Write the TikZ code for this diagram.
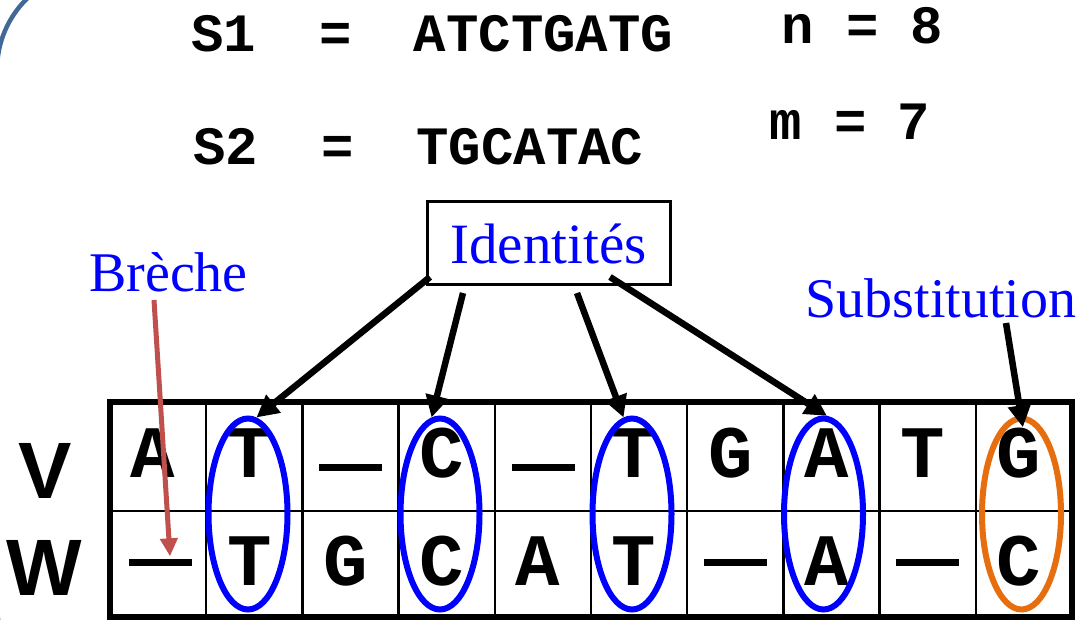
\documentclass[tikz,border=0pt]{standalone}
\usepackage{fontspec}
\setmainfont{Liberation Serif}
\newfontfamily\monof{Liberation Mono}
\newfontfamily\sansf{Liberation Sans}
\usetikzlibrary{shapes.geometric,arrows.meta,calc}
\definecolor{frameblue}{RGB}{65,105,150}
\definecolor{gapred}{RGB}{192,80,77}
\definecolor{suborange}{RGB}{230,110,15}
\definecolor{labelblue}{RGB}{0,0,255}
\begin{document}
\begin{tikzpicture}[x=1pt,y=-1pt,
  seq/.style={font=\monof\bfseries\fontsize{54}{54}\selectfont, anchor=base, inner sep=0},
  cell/.style={font=\monof\bfseries\fontsize{74}{74}\selectfont, anchor=base, inner sep=0},
  gapbar/.style={inner sep=0, fill=black, minimum width=63, minimum height=7},
  rowlab/.style={font=\sansf\bfseries\fontsize{80}{80}\selectfont, anchor=base, inner sep=0},
  lab/.style={font=\fontsize{56}{56}\selectfont, text=labelblue, anchor=base, inner sep=0},
  ring/.style={ellipse, draw=labelblue, line width=6, minimum width=79, minimum height=191, inner sep=0},
  pointer/.style={draw=black, line width=6.5, -{Triangle[length=22,width=22]}},
  gappointer/.style={draw=gapred, line width=5, -{Triangle[length=18,width=17]}},
]
\useasboundingbox (0,0) rectangle (1084,620);
\fill[white] (0,0) rectangle (1084,620);
% frame
\begin{scope}
  \clip (0,0) rectangle (1084,620);
  \draw[frameblue, line width=4.5, rounded corners=100] (-3,-30) rectangle (1200,705);
\end{scope}
% sequences
\node[seq] (s1) at (223.5,52) {S1};
\node[seq] (eq1) at (336,52) {=};
\node[seq] (s1v) at (543.5,52) {ATCTGATG};
\node[seq] (s2) at (226,165) {S2};
\node[seq] (eq2) at (338,165) {=};
\node[seq] (s2v) at (530,165) {TGCATAC};
\node[seq] (nn) at (798,44) {n};
\node[seq] (eqn) at (863,44) {=};
\node[seq] (nv) at (926.5,44) {8};
\node[seq] (mm) at (785.5,140) {m};
\node[seq] (eqm) at (850.5,140) {=};
\node[seq] (mv) at (914,140) {7};
% labels
\node[draw, line width=3, minimum width=243, minimum height=83, inner sep=0,
      font=\fontsize{57}{57}\selectfont, text=labelblue] (idbox) at (548.5,243.5) {Identités};
\node[lab] (breche) at (168.5,292) {Brèche};
\node[lab] (subst) at (941,317) {Substitution};
% table
\foreach \i in {1,...,9} \draw[line width=2.5] ({110+96.2*\i},402) -- ({110+96.2*\i},617);
\draw[line width=2.5] (110,511) -- (1072,511);
\draw[line width=5.5] (110,402) rectangle (1072,617);
% row labels
\node[rowlab] (rv) at (45,498) {V};
\node[rowlab] (rw) at (44,595) {W};
% row V
\node[cell] (v1) at (153.1,477) {A};
\node[cell] (v2) at (249.3,477) {T};
\node[gapbar] (v3) at (350.5,467) {};
\node[cell] (v4) at (441.7,477) {C};
\node[gapbar] (v5) at (543,467) {};
\node[cell] (v6) at (634.1,477) {T};
\node[cell] (v7) at (730.3,477) {G};
\node[cell] (v8) at (826.5,477) {A};
\node[cell] (v9) at (922.7,477) {T};
\node[cell] (v10) at (1018.9,477) {G};
% row W
\node[gapbar] (w1) at (160,562) {};
\node[cell] (w2) at (249.3,585) {T};
\node[cell] (w3) at (345.5,585) {G};
\node[cell] (w4) at (441.7,585) {C};
\node[cell] (w5) at (537.9,585) {A};
\node[cell] (w6) at (634.1,585) {T};
\node[gapbar] (w7) at (735,562) {};
\node[cell] (w8) at (826.5,585) {A};
\node[gapbar] (w9) at (927,562) {};
\node[cell] (w10) at (1018.9,585) {C};
% ellipses
\node[ring] (e2) at (248,514) {};
\node[ring] (e4) at (440,514) {};
\node[ring] (e6) at (632,514) {};
\node[ring] (e8) at (823.5,514) {};
\node[ring, draw=suborange] (e10) at (1021.5,514) {};
% arrows
\coordinate (i1) at (430,277);
\coordinate (i2) at (463,293);
\coordinate (i3) at (577,293);
\coordinate (i4) at (610,277);
\coordinate (sb) at (1006,323);
\coordinate (bb) at (154,300);
\draw[pointer] (i1) -- (e2.85);
\draw[pointer] (i2) -- (e4.95);
\draw[pointer] (i3) -- (e6.95);
\draw[pointer] (i4) -- (e8.88);
\draw[pointer] (sb) -- ($(v10.north)+(4,0)$);
\draw[gappointer] (bb) -- ($(w1.north)+(10,-2)$);
\end{tikzpicture}
\end{document}
